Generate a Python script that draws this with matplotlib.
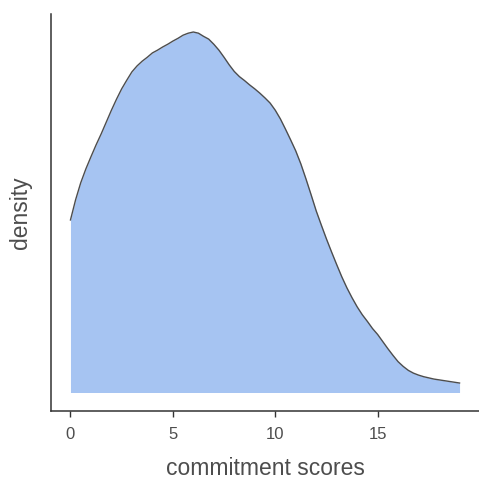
import numpy as np
import matplotlib
matplotlib.use("Agg")
import matplotlib.pyplot as plt

plt.rcParams['font.family'] = ['Liberation Sans', 'DejaVu Sans']

# score grid (step 0.25) and kernel density estimate
score = np.arange(0, 19.01, 0.25)
density = [0.0437, 0.0488, 0.0531, 0.0566, 0.0597, 0.0627, 0.0655, 0.0685,
           0.0715, 0.0743, 0.0769, 0.0791, 0.0812, 0.0827, 0.0839, 0.0849,
           0.0860, 0.0867, 0.0875, 0.0882, 0.0890, 0.0897, 0.0905, 0.0910,
           0.0913, 0.0910, 0.0902, 0.0895, 0.0882, 0.0867, 0.0849, 0.0830,
           0.0813, 0.0800, 0.0790, 0.0779, 0.0769, 0.0758, 0.0746, 0.0733,
           0.0715, 0.0693, 0.0667, 0.0640, 0.0612, 0.0579, 0.0541, 0.0501,
           0.0460, 0.0424, 0.0389, 0.0356, 0.0324, 0.0293, 0.0265, 0.0240,
           0.0217, 0.0197, 0.0180, 0.0162, 0.0147, 0.0129, 0.0111, 0.0094,
           0.0078, 0.0066, 0.0056, 0.0049, 0.0044, 0.0040, 0.0037, 0.0034,
           0.0032, 0.0030, 0.0028, 0.0026, 0.0024]
xticks = [0, 5, 10, 15]

fig = plt.figure(figsize=(4.79, 4.82), dpi=100)
ax = fig.add_axes([0.1065, 0.1483, 0.8935, 0.8227])

ax.fill_between(score, 0, density, color='#a6c4f2', linewidth=0)
ax.plot(score, density, color='#4d4d4d', linewidth=1.0,
        solid_joinstyle='round')

pad_x = 0.05 * (score.max() - score.min())
ax.set_xlim(score.min() - pad_x, score.max() + pad_x)
top = max(density)
ax.set_ylim(-0.05 * top, 1.05 * top)

ax.set_xticks(xticks)
ax.set_yticks([])
ax.tick_params(axis='x', length=4, width=1, color='#333333',
               labelcolor='#4d4d4d', labelsize=12, pad=8)

for s in ['top', 'right']:
    ax.spines[s].set_visible(False)
for s in ['left', 'bottom']:
    ax.spines[s].set_color('#333333')
    ax.spines[s].set_linewidth(1.1)

ax.set_xlabel('commitment scores', fontsize=16.5, color='#4d4d4d', labelpad=11)
ax.set_ylabel('density', fontsize=16.5, color='#4d4d4d', labelpad=14)

fig.savefig('out.png', dpi=100)
